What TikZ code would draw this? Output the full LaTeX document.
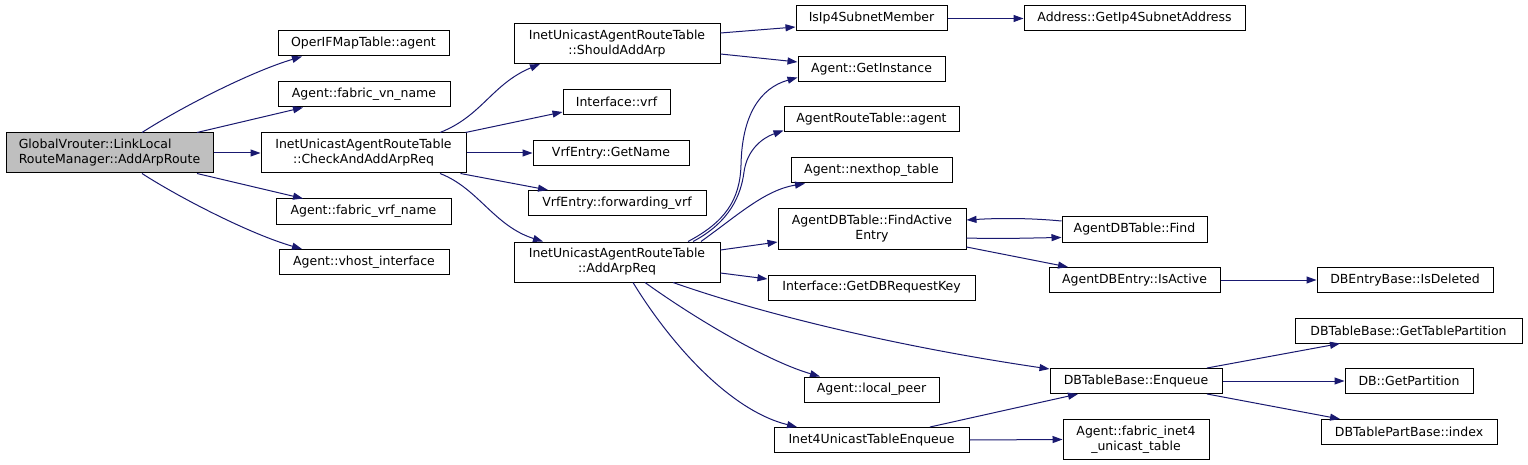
\documentclass[tikz,border=0pt]{standalone}
\usepackage{fontspec}
\setmainfont{DejaVu Sans}
\usetikzlibrary{arrows.meta}
\definecolor{edgeblue}{HTML}{191970}
\definecolor{rootgray}{HTML}{BFBFBF}
\begin{document}
\begin{tikzpicture}[x=1pt,y=-1pt,
  box/.style={draw=black, line width=1pt, fill=white, inner sep=0pt, align=center,
    font=\fontsize{12.5}{15}\selectfont, text=black},
  call/.style={draw=edgeblue, line width=1pt, -{Triangle[length=10pt,width=7pt]}}]
\useasboundingbox[fill=white] (0,0) rectangle (1528,465);

% nodes
\node[box, fill=rootgray, align=left, minimum width=207pt, minimum height=40pt] (root) at (109.5,153) {GlobalVrouter::LinkLocal\\RouteManager::AddArpRoute};
\node[box, minimum width=171pt, minimum height=25pt] (oper) at (363.5,43.5) {OperIFMapTable::agent};
\node[box, minimum width=172pt, minimum height=25pt] (fvn) at (364,94.5) {Agent::fabric\_vn\_name};
\node[box, minimum width=205pt, minimum height=40pt] (check) at (363.5,153) {InetUnicastAgentRouteTable\\::CheckAndAddArpReq};
\node[box, minimum width=175pt, minimum height=25pt] (fvrf) at (363.5,211.5) {Agent::fabric\_vrf\_name};
\node[box, minimum width=170pt, minimum height=25pt] (vhost) at (364,262) {Agent::vhost\_interface};

\node[box, minimum width=206pt, minimum height=40pt] (should) at (617,43.5) {InetUnicastAgentRouteTable\\::ShouldAddArp};
\node[box, minimum width=107pt, minimum height=25pt] (ivrf) at (616.5,102) {Interface::vrf};
\node[box, minimum width=156pt, minimum height=25pt] (getname) at (611,153) {VrfEntry::GetName};
\node[box, minimum width=178pt, minimum height=25pt] (fwd) at (617,203) {VrfEntry::forwarding\_vrf};
\node[box, minimum width=206pt, minimum height=40pt] (addarp) at (617,262) {InetUnicastAgentRouteTable\\::AddArpReq};

\node[box, minimum width=151pt, minimum height=25pt] (subnet) at (871.5,18.5) {IsIp4SubnetMember};
\node[box, minimum width=221pt, minimum height=25pt] (addr) at (1134.5,18.5) {Address::GetIp4SubnetAddress};
\node[box, minimum width=147pt, minimum height=25pt] (inst) at (871.5,69.5) {Agent::GetInstance};
\node[box, minimum width=175pt, minimum height=25pt] (rtagent) at (871.5,119.5) {AgentRouteTable::agent};
\node[box, minimum width=161pt, minimum height=25pt] (nhop) at (871.5,170.5) {Agent::nexthop\_table};
\node[box, minimum width=188pt, minimum height=40pt] (fae) at (872,229) {AgentDBTable::FindActive\\Entry};
\node[box, minimum width=207pt, minimum height=25pt] (dbkey) at (871.5,287.5) {Interface::GetDBRequestKey};
\node[box, minimum width=135pt, minimum height=25pt] (peer) at (871.5,389.5) {Agent::local\_peer};
\node[box, minimum width=195pt, minimum height=25pt] (i4e) at (871.5,440) {Inet4UnicastTableEnqueue};

\node[box, minimum width=145pt, minimum height=25pt] (find) at (1134.5,229.5) {AgentDBTable::Find};
\node[box, minimum width=171pt, minimum height=25pt] (isactive) at (1134.5,280) {AgentDBEntry::IsActive};
\node[box, minimum width=172pt, minimum height=25pt] (enq) at (1136,381) {DBTableBase::Enqueue};
\node[box, minimum width=146pt, minimum height=40pt] (fi4) at (1136,439.5) {Agent::fabric\_inet4\\\_unicast\_table};

\node[box, minimum width=176pt, minimum height=25pt] (isdel) at (1405,280) {DBEntryBase::IsDeleted};
\node[box, minimum width=227pt, minimum height=25pt] (gtp) at (1408.5,330.5) {DBTableBase::GetTablePartition};
\node[box, minimum width=128pt, minimum height=25pt] (dbgp) at (1409,381) {DB::GetPartition};
\node[box, minimum width=176pt, minimum height=25pt] (idx) at (1409,432) {DBTablePartBase::index};

% edges from root
\draw[call] ([xshift=32.5pt]root.north) .. controls (180,108) and (250,72) .. ([xshift=-61.5pt]oper.south);
\draw[call] ([xshift=87.5pt]root.north) -- ([xshift=-61pt]fvn.south);
\draw[call] (root.east) -- (check.west);
\draw[call] ([xshift=87.5pt]root.south) -- ([xshift=-60.5pt]fvrf.north);
\draw[call] ([xshift=32.5pt]root.south) .. controls (180,198) and (250,234) .. ([xshift=-62pt]vhost.north);

% edges from CheckAndAddArpReq
\draw[call] ([xshift=76.5pt]check.north) .. controls (482,116) and (492,84) .. ([xshift=-77pt]should.south);
\draw[call] ([xshift=-1pt]check.north east) -- ([yshift=3pt]ivrf.south west);
\draw[call] (check.east) -- (getname.west);
\draw[call] ([xshift=-6pt]check.south east) -- ([xshift=-69pt]fwd.north);
\draw[call] ([xshift=76.5pt]check.south) .. controls (478,188) and (494,226) .. ([xshift=-74pt]addarp.north);

% ShouldAddArp
\draw[call] ([yshift=10.5pt]should.east) -- ([yshift=-8.5pt]subnet.west);
\draw[call] ([yshift=-10.5pt]should.east) -- ([yshift=7.5pt]inst.west);
\draw[call] (subnet.east) -- (addr.west);

% AddArpReq
\draw[call] ([xshift=71pt]addarp.north) .. controls (725,222) and (740,200) .. (741,165)
  .. controls (742,115) and (760,88) .. ([yshift=-8pt]inst.west);
\draw[call] ([xshift=76pt]addarp.north) .. controls (730,222) and (741,195) .. (744,172)
  .. controls (747,150) and (762,138) .. ([yshift=-11pt]rtagent.west);
\draw[call] ([xshift=84pt]addarp.north) .. controls (738,215) and (765,190) .. ([xshift=-66.5pt]nhop.south);
\draw[call] ([yshift=12pt]addarp.east) -- ([yshift=-13pt]fae.west);
\draw[call] ([yshift=-11pt]addarp.east) -- ([yshift=8.5pt]dbkey.west);
\draw[call] ([xshift=56pt]addarp.south) .. controls (780,320) and (920,350) .. ([yshift=-1pt]enq.north west);
\draw[call] ([xshift=28pt]addarp.south) .. controls (700,322) and (770,362) .. ([xshift=-51.5pt]peer.north);
\draw[call] ([xshift=16pt]addarp.south) .. controls (668,340) and (728,410) .. ([xshift=-74.5pt]i4e.north);

% FindActiveEntry / Find
\draw[call] ([yshift=8.5pt]find.west) .. controls (1030,218) and (1000,218) .. ([yshift=9pt]fae.east);
\draw[call] ([yshift=-9pt]fae.east) .. controls (1000,239) and (1030,238) .. ([yshift=-8pt]find.west);
\draw[call] ([yshift=-18pt]fae.east) -- ([xshift=-66.5pt]isactive.north);
\draw[call] (isactive.east) -- (isdel.west);

% Inet4UnicastTableEnqueue
\draw[call] ([xshift=58.5pt]i4e.north) -- ([xshift=-58pt]enq.south);
\draw[call] (i4e.east) -- (fi4.west);

% DBTableBase::Enqueue
\draw[call] ([xshift=71pt]enq.north) -- ([xshift=-68.5pt]gtp.south);
\draw[call] (enq.east) -- (dbgp.west);
\draw[call] ([xshift=71pt]enq.south) -- ([xshift=-69pt]idx.north);
\end{tikzpicture}
\end{document}
